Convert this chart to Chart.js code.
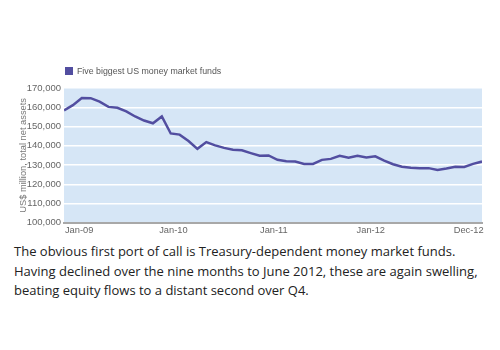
<!DOCTYPE html>
<html>
<head>
<meta charset="utf-8">
<script src="https://cdn.jsdelivr.net/npm/chart.js@4/dist/chart.umd.min.js"></script>
<style>
  body { margin: 0; background: #fff; width: 500px; height: 350px; overflow: hidden; font-family: "Liberation Sans", Arial, sans-serif; }
  #wrap { position: absolute; left: 0; top: 0; width: 500px; height: 240px; }
  #legend { position: absolute; left: 65px; top: 66px; font-size: 8.8px; color: #555; line-height: 10px; }
  #legend span.box { display: inline-block; width: 8px; height: 8px; background: #524ea0; margin-right: 4px; vertical-align: -1px; }
  #caption { position: absolute; left: 14px; top: 242px; width: 480px; font-family: "Open Sans", sans-serif; font-size: 13px; line-height: 19.5px; color: #222; }
</style>
</head>
<body>
<div id="wrap"><canvas id="fundsChart"></canvas></div>
<div id="legend"><span class="box"></span><span id="legendText"></span></div>
<div id="caption">The obvious first port of call is Treasury-dependent money market funds. Having declined over the nine months to June 2012, these are again swelling, beating equity flows to a distant second over Q4.</div>
<script>
// monthly, Jan-09 .. Dec-12 (US$ million)
var meses = [
    'Jan-09','Feb-09','Mar-09','Apr-09','May-09','Jun-09','Jul-09','Aug-09','Sep-09','Oct-09','Nov-09','Dec-09',
    'Jan-10','Feb-10','Mar-10','Apr-10','May-10','Jun-10','Jul-10','Aug-10','Sep-10','Oct-10','Nov-10','Dec-10',
    'Jan-11','Feb-11','Mar-11','Apr-11','May-11','Jun-11','Jul-11','Aug-11','Sep-11','Oct-11','Nov-11','Dec-11',
    'Jan-12','Feb-12','Mar-12','Apr-12','May-12','Jun-12','Jul-12','Aug-12','Sep-12','Oct-12','Nov-12','Dec-12'
];
var fondos = [
    158400, 161100, 164800, 164700, 162900, 160200, 159700, 157900, 155200, 153100, 151700, 155200,
    146400, 145800, 142500, 138400, 141900, 140200, 138900, 138000, 137700, 136200, 134800, 135000,
    132700, 132000, 131800, 130600, 130600, 132700, 133200, 134800, 133800, 134800, 133900, 134500,
    132300, 130400, 129100, 128600, 128400, 128400, 127500, 128200, 129100, 129000, 130600, 131800
];
var etiquetasX = ['Jan-09', 'Jan-10', 'Jan-11', 'Jan-12', 'Dec-12'];
var serieNombre = 'Five biggest US money market funds';
var ejeY = 'US$ million, total net assets';

// where the x labels sit, in month units (they are spread evenly, not on Januaries)
var posEtiquetas = [1.7, 12.3, 23.6, 34.5, 45.5];

document.getElementById('legendText').textContent = serieNombre;

var fondoPlot = {
    id: 'fondoPlot',
    beforeDraw: function (chart) {
        var a = chart.chartArea, ctx = chart.ctx;
        ctx.save();
        ctx.fillStyle = '#d6e6f6';
        ctx.fillRect(a.left, a.top, a.right - a.left, a.bottom - a.top);
        ctx.restore();
    }
};

var ctx = document.getElementById('fundsChart');
new Chart(ctx, {
    type: 'line',
    data: {
        datasets: [{
            label: serieNombre,
            data: fondos.map(function (v, i) { return { x: i, y: v }; }),
            borderColor: '#524ea0',
            borderWidth: 2.5,
            pointRadius: 0,
            tension: 0,
            fill: false
        }]
    },
    options: {
        responsive: true,
        maintainAspectRatio: false,
        animation: false,
        layout: { padding: { left: 18, right: 18, top: 88, bottom: 2 } },
        plugins: {
            legend: { display: false },
            tooltip: { enabled: false }
        },
        scales: {
            x: {
                type: 'linear',
                min: 0,
                max: meses.length - 1,
                grid: { display: false, drawTicks: false },
                border: { display: true, color: '#a8a8a8', width: 2 },
                afterBuildTicks: function (s) {
                    s.ticks = posEtiquetas.map(function (p) { return { value: p }; });
                },
                ticks: {
                    autoSkip: false,
                    maxRotation: 0,
                    padding: 2,
                    color: '#666',
                    font: { family: 'Liberation Sans', size: 9.3 },
                    callback: function (value, index) { return etiquetasX[index]; }
                }
            },
            y: {
                min: 100000,
                max: 170000,
                afterFit: function (s) { s.width = 46; },
                grid: { color: '#ffffff', lineWidth: 1.5, drawTicks: false },
                border: { display: false },
                title: {
                    display: true,
                    text: ejeY,
                    color: '#777',
                    padding: 0,
                    font: { family: 'Liberation Sans', size: 9.3 }
                },
                ticks: {
                    stepSize: 10000,
                    padding: 3,
                    color: '#666',
                    font: { family: 'Liberation Sans', size: 9.5 },
                    callback: function (v) { return v.toLocaleString('en-US'); }
                }
            }
        }
    },
    plugins: [fondoPlot]
});
</script>
</body>
</html>
